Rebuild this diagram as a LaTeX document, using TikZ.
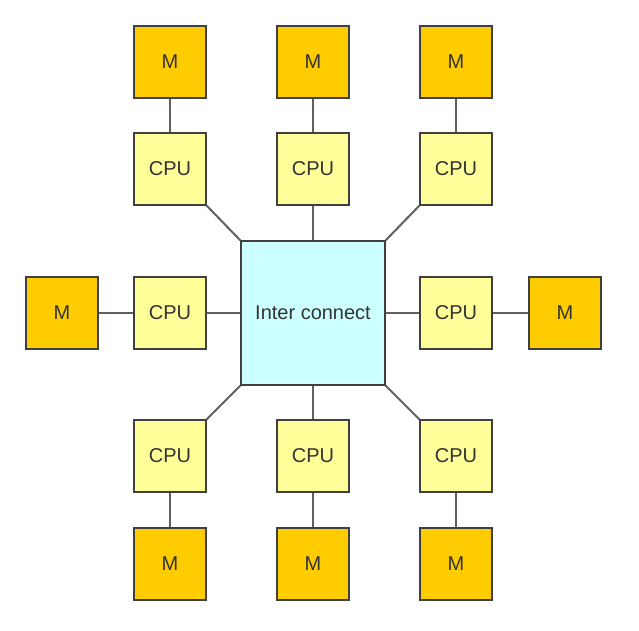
\documentclass[tikz,border=0pt]{standalone}
\usepackage{fontspec}
\setmainfont{Liberation Sans}
\definecolor{memfill}{HTML}{FFCC00}
\definecolor{cpufill}{HTML}{FFFF99}
\definecolor{icnfill}{HTML}{CCFFFF}
\definecolor{boxline}{HTML}{404040}
\definecolor{wire}{HTML}{606060}
\definecolor{label}{HTML}{333333}
\tikzset{
  unit/.style={draw=boxline,line width=1.3pt,minimum size=72pt,inner sep=0pt,text=label,font=\fontsize{20}{22}\selectfont},
  mem/.style={unit,fill=memfill},
  cpu/.style={unit,fill=cpufill},
  icn/.style={unit,fill=icnfill,minimum size=144pt},
  link/.style={draw=wire,line width=2pt}
}
\begin{document}
\begin{tikzpicture}[x=1pt,y=-1pt]
\useasboundingbox (0,0) rectangle (639,630);
\node[icn] (ic) at (313,313) {Inter connect};
% top and bottom rows
\foreach \n/\x in {l/170,c/313,r/456} {
  \node[cpu] (cput\n) at (\x,169) {CPU};
  \node[mem] (memt\n) at (\x,62) {M};
  \node[cpu] (cpub\n) at (\x,456) {CPU};
  \node[mem] (memb\n) at (\x,564) {M};
  \draw[link] (memt\n) -- (cput\n);
  \draw[link] (cpub\n) -- (memb\n);
}
% left and right
\node[cpu] (cpuml) at (170,313) {CPU};
\node[mem] (memml) at (62,313) {M};
\node[cpu] (cpumr) at (456,313) {CPU};
\node[mem] (memmr) at (565,313) {M};
\draw[link] (memml) -- (cpuml);
\draw[link] (cpumr) -- (memmr);
% to the interconnect
\draw[link] (cputc) -- (ic);
\draw[link] (cpubc) -- (ic);
\draw[link] (cpuml) -- (ic);
\draw[link] (cpumr) -- (ic);
\draw[link] (cputl.south east) -- (ic.north west);
\draw[link] (cputr.south west) -- (ic.north east);
\draw[link] (cpubl.north east) -- (ic.south west);
\draw[link] (cpubr.north west) -- (ic.south east);
\end{tikzpicture}
\end{document}
